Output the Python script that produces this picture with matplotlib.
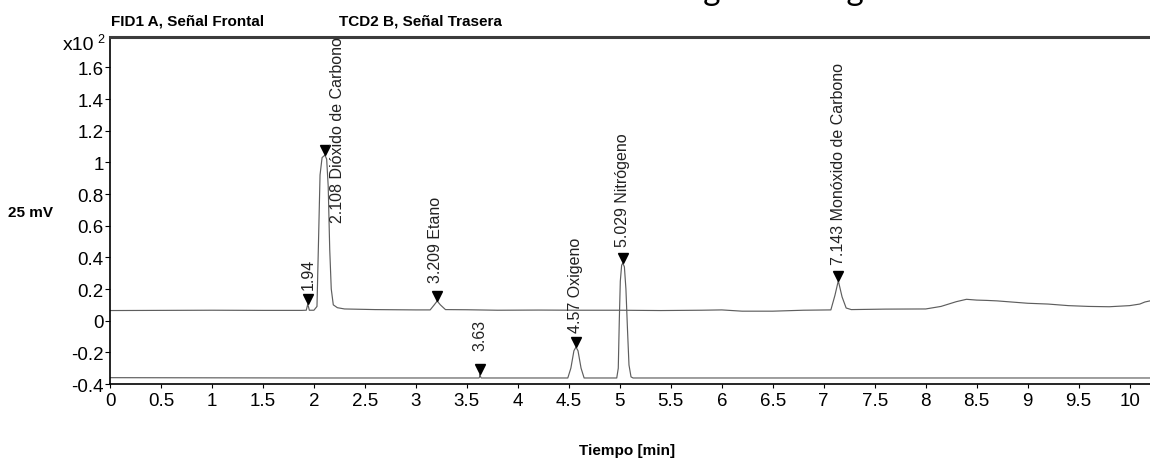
import matplotlib
matplotlib.use("Agg")
import matplotlib.pyplot as plt
from matplotlib import transforms
from matplotlib import font_manager as fm

# ---------------- data ----------------
# FID1 A (front signal) trace
fid_time = [0.0, 0.5, 1.0, 1.5, 1.88, 1.925, 1.94, 1.955, 2.00, 2.03, 2.045, 2.06,
            2.08, 2.108, 2.125, 2.14, 2.155, 2.17, 2.19, 2.23, 2.30, 2.6, 3.0,
            3.14, 3.18, 3.209, 3.24, 3.29, 3.5, 3.8, 4.2, 4.6, 5.0, 5.4, 5.8,
            6.0, 6.2, 6.5, 6.8, 7.07, 7.11, 7.143, 7.18, 7.22, 7.27, 7.6, 8.0,
            8.15, 8.3, 8.4, 8.5, 8.6, 8.7, 8.8, 9.0, 9.2, 9.4, 9.6, 9.8, 10.0,
            10.1, 10.15, 10.2]
fid_signal = [0.064, 0.065, 0.066, 0.065, 0.065, 0.066, 0.105, 0.066, 0.066, 0.09, 0.50, 0.92,
              1.03, 1.046, 1.02, 0.85, 0.45, 0.20, 0.10, 0.082, 0.074, 0.070, 0.068,
              0.068, 0.10, 0.124, 0.10, 0.070, 0.069, 0.066, 0.067, 0.066, 0.066, 0.064, 0.066,
              0.068, 0.060, 0.060, 0.066, 0.068, 0.16, 0.252, 0.15, 0.08, 0.070, 0.073, 0.074,
              0.090, 0.120, 0.135, 0.130, 0.128, 0.125, 0.120, 0.110, 0.105, 0.095, 0.090, 0.088, 0.095,
              0.105, 0.118, 0.125]

# TCD2 B (rear signal) trace
tcd_time = [0.0, 1.0, 2.0, 3.0, 3.62, 3.628, 3.63, 3.632, 3.64, 4.2, 4.49, 4.52,
            4.55, 4.57, 4.59, 4.62, 4.65, 4.97, 4.985, 4.995, 5.005, 5.018, 5.029,
            5.045, 5.06, 5.075, 5.09, 5.11, 5.13, 6.0, 7.0, 8.0, 9.0, 10.2]
tcd_signal = [-0.360, -0.361, -0.362, -0.362, -0.362, -0.350, -0.337, -0.350, -0.362, -0.362, -0.362, -0.30,
              -0.19, -0.167, -0.19, -0.30, -0.362, -0.362, -0.30, 0.0, 0.25, 0.35, 0.364,
              0.34, 0.20, -0.05, -0.28, -0.355, -0.362, -0.362, -0.362, -0.362, -0.362, -0.362]

# Marked peaks
peak_times = [1.94, 2.108, 3.209, 3.63, 4.57, 5.029, 7.143]
peak_heights = [0.105, 1.046, 0.124, -0.337, -0.167, 0.364, 0.252]
peak_labels = ["1.94", "2.108 Dióxido de Carbono", "3.209 Etano", "3.63",
               "4.57 Oxigeno", "5.029 Nitrógeno", "7.143 Monóxido de Carbono"]

x_ticks = [0, 0.5, 1, 1.5, 2, 2.5, 3, 3.5, 4, 4.5, 5, 5.5, 6, 6.5, 7, 7.5, 8, 8.5, 9, 9.5, 10]
x_tick_labels = ["0", "0.5", "1", "1.5", "2", "2.5", "3", "3.5", "4", "4.5", "5",
                 "5.5", "6", "6.5", "7", "7.5", "8", "8.5", "9", "9.5", "10"]
y_ticks = [-0.4, -0.2, 0, 0.2, 0.4, 0.6, 0.8, 1, 1.2, 1.4, 1.6]
y_tick_labels = ["-0.4", "-0.2", "0", "0.2", "0.4", "0.6", "0.8", "1", "1.2", "1.4", "1.6"]

# ---------------- layout / style ----------------
# label offsets (points) relative to the peak apex: (dx, dy)
label_offsets = [(0, 11), (9, -48), (-1, 14), (0, 17), (0, 11), (0, 12), (0, 12)]

installed = {f.name for f in fm.fontManager.ttflist}
NARROW = ["Liberation Sans Narrow", "Liberation Sans"] if "Liberation Sans Narrow" in installed else ["Liberation Sans"]
REG = ["Liberation Sans", "DejaVu Sans"]

W, H = 1150, 464
fig = plt.figure(figsize=(W / 100, H / 100), dpi=100)
fig.patch.set_facecolor("white")


def px(x, y):
    return x / W, 1 - y / H


ax = fig.add_axes([110 / W, (H - 385) / H, (W - 110) / W, (385 - 37.5) / H])
ax.set_xlim(0, 10.2)
ax.set_ylim(-0.4, 1.795)

trace_color = "#5e5e5e"
ax.plot(fid_time, fid_signal, color=trace_color, lw=0.85, solid_joinstyle="round")
ax.plot(tcd_time, tcd_signal, color=trace_color, lw=0.85, solid_joinstyle="round")

msize = 7
mark_tr = transforms.offset_copy(ax.transData, fig=fig, x=0, y=msize / 2, units="points")
ax.plot(peak_times, peak_heights, linestyle="none", marker="v", color="black",
        markersize=msize, transform=mark_tr, clip_on=False)

for t, h, lab, (dx, dy) in zip(peak_times, peak_heights, peak_labels, label_offsets):
    ax.annotate(lab, xy=(t, h), xytext=(dx, dy), textcoords="offset points",
                rotation=90, ha="center", va="bottom", fontsize=11.5,
                family=REG, color="#222222", annotation_clip=False)

# spines
for s in ["left", "bottom"]:
    ax.spines[s].set_color("black")
    ax.spines[s].set_linewidth(1.2)
ax.spines["right"].set_visible(False)
ax.spines["top"].set_color("#3c3c3c")
ax.spines["top"].set_linewidth(2.2)

ax.set_xticks(x_ticks)
ax.set_xticklabels(x_tick_labels, family=NARROW, fontsize=13.5)
ax.set_yticks(y_ticks)
ax.set_yticklabels(y_tick_labels, family=REG, fontsize=13.5)
ax.tick_params(axis="x", direction="out", length=3, width=0.8, pad=3, colors="black")
ax.tick_params(axis="y", direction="out", length=3.5, width=0.8, pad=1, colors="black")

# texts
fig.text(*px(94, 46), "x10", ha="right", va="center", fontsize=14, family=REG)
fig.text(*px(97, 40), "2", ha="left", va="center", fontsize=9, family=REG)
bold_size = 11
fig.text(*px(8, 213), "25 mV", ha="left", va="center", fontsize=bold_size,
         family=NARROW, fontweight="bold")
fig.text(*px(111, 22), "FID1 A, Señal Frontal", ha="left", va="center", fontsize=bold_size,
         family=NARROW, fontweight="bold")
fig.text(*px(339, 22), "TCD2 B, Señal Trasera", ha="left", va="center", fontsize=bold_size,
         family=NARROW, fontweight="bold")
fig.text(*px(627, 451), "Tiempo [min]", ha="center", va="center", fontsize=bold_size,
         family=NARROW, fontweight="bold")
# title, almost entirely cut off at the top edge (only the letter bottoms show)
fig.text(*px(575, 0.5), "Cromatograma de gases de", ha="left", va="baseline",
         fontsize=24, family=["Lato", "DejaVu Sans"], color="black")

fig.savefig("out.png", dpi=100, facecolor="white")
